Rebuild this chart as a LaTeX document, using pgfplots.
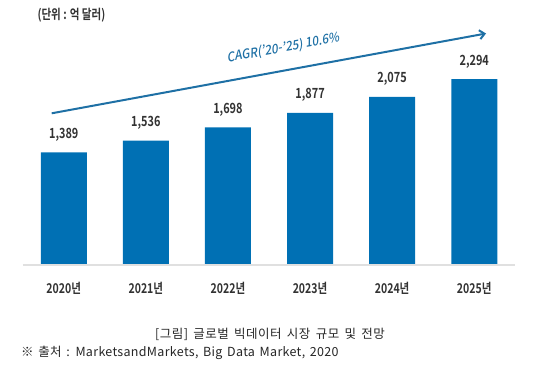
\documentclass[border=0pt]{standalone}
\usepackage{pgfplots}
\pgfplotsset{compat=1.18}
\usetikzlibrary{arrows.meta}
\usepackage{fontspec}
\setmainfont{Noto Sans CJK KR}
\newfontfamily\lab[FakeStretch=0.78]{Noto Sans CJK KR Bold}
\newfontfamily\cagr[FakeSlant=0.2,FakeStretch=0.9]{Noto Sans CJK KR Medium}
\newfontfamily\capf[LetterSpace=4,WordSpace=1.6]{Noto Sans CJK KR}
\newfontfamily\srcf[LetterSpace=2.5,WordSpace=1.5]{Noto Sans CJK KR}
\definecolor{barblue}{RGB}{0,112,180}
\definecolor{arrblue}{RGB}{30,112,165}
\definecolor{txt}{RGB}{50,50,50}
\begin{document}
\begin{tikzpicture}[x=1bp,y=1bp]
\useasboundingbox (0,0) rectangle (540,366);
\begin{axis}[
  at={(22.7bp,101bp)}, anchor=south west,
  scale only axis, width=492.6bp, height=240bp,
  xmin=-0.5, xmax=5.5, ymin=0, ymax=2963,
  axis line style={draw=none},
  major tick length=0pt,
  ytick=\empty,
  xtick=data,
  xticklabels={2020년,2021년,2022년,2023년,2024년,2025년},
  xticklabel style={anchor=base, yshift=-28bp, font=\lab\fontsize{13.5bp}{15bp}\selectfont, text=txt},
  ybar, bar width=46bp,
  nodes near coords,
  nodes near coords style={anchor=base, yshift=14bp, font=\lab\fontsize{14bp}{16bp}\selectfont, text=txt,
    /pgf/number format/1000 sep={,}, /pgf/number format/assume math mode=true},
  clip=false,
]
\addplot[fill=barblue, draw=none] coordinates {(0,1389) (1,1536) (2,1698) (3,1877) (4,2075) (5,2294)};
\draw[black!12, line width=1.2bp] (axis cs:-0.5,0) -- (axis cs:5.5,0);
\end{axis}
\draw[arrblue, line width=2bp, -{Straight Barb[length=5bp,width=9bp]}] (51.7,252.7) -- (486,332.5);
\node[rotate=10.3, text=arrblue, font=\cagr\fontsize{13bp}{14bp}\selectfont] at (283,318) {CAGR(’20-’25) 10.6\%};
\node[anchor=west, text=txt, font=\lab\fontsize{13.5bp}{15bp}\selectfont] at (34,351) {(단위 : 억 달러)};
\node[font=\capf\fontsize{12.5bp}{15bp}\selectfont, text=black!85] at (270,32) {[그림] 글로벌 빅데이터 시장 규모 및 전망};
\node[anchor=west, font=\srcf\fontsize{12.5bp}{15bp}\selectfont, text=black!85, inner sep=0] at (21,13) {※ 출처 : MarketsandMarkets, Big Data Market, 2020};
\end{tikzpicture}
\end{document}
